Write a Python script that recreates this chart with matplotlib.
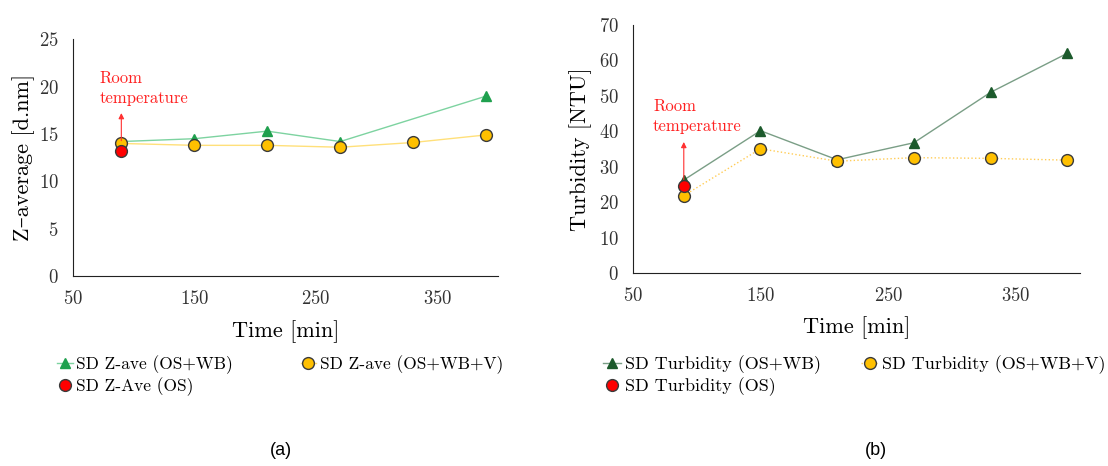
import numpy as np
import matplotlib
matplotlib.use("Agg")
import matplotlib.pyplot as plt

plt.rcParams['font.family'] = ['cmr10', 'DejaVu Serif']
plt.rcParams['axes.formatter.use_mathtext'] = True

# panel (a): Z-average
time_a_wb = [90, 150, 210, 270, 390]
zave_wb = [14.2, 14.5, 15.3, 14.2, 19.0]
time_a_v = [90, 150, 210, 270, 330, 390]
zave_wbv = [14.0, 13.8, 13.8, 13.6, 14.1, 14.9]
time_os = [90]
zave_os = [13.2]

# panel (b): Turbidity
time_b = [90, 150, 210, 270, 330, 390]
turb_wb = [26.3, 40.2, 32.0, 36.8, 51.0, 62.0]
turb_wbv = [21.9, 35.1, 31.6, 32.6, 32.4, 31.9]
turb_os = [24.7]

fig = plt.figure(figsize=(11.08, 4.66), dpi=100)
ax1 = fig.add_axes([0.0656, 0.4077, 0.3841, 0.508])
ax2 = fig.add_axes([0.571, 0.4135, 0.4037, 0.5329])

yellow = '#ffc000'
edge = '#3a3a3a'

# (a)
l1, = ax1.plot(time_a_wb, zave_wb, color='#7dd3a0', lw=1.0, marker='^', ms=7.5,
               mfc='#1fa04e', mec='#1fa04e', label='SD Z-ave (OS+WB)', zorder=2)
l2, = ax1.plot(time_a_v, zave_wbv, color='#ffe07a', lw=1.0, marker='o', ms=8.5,
               mfc=yellow, mec=edge, mew=1.0, label='SD Z-ave (OS+WB+V)', zorder=3)
l3, = ax1.plot(time_os, zave_os, ls='none', marker='o', ms=8.5, mfc='#ff0000',
               mec=edge, mew=1.0, label='SD Z-Ave (OS)', zorder=4)
ax1.annotate('', xy=(90, 17.5), xytext=(90, 14.0),
             arrowprops=dict(arrowstyle='-|>', color='#ff3030', lw=0.8,
                             mutation_scale=8))
ax1.text(72, 21.7, 'Room\ntemperature', color='#ff2020', fontsize=12,
         va='top', ha='left', linespacing=1.4)
ax1.set_xlim(50, 400)
ax1.set_ylim(0, 25)
ax1.set_xticks([50, 150, 250, 350])
ax1.set_yticks(np.arange(0, 26, 5))
ax1.set_xlabel('Time [min]', fontsize=16, labelpad=9)
ax1.set_ylabel('Z\u2013average [d.nm]', fontsize=16, labelpad=3)
ax1.legend([l1, l3, l2], [l1.get_label(), l3.get_label(), l2.get_label()],
           loc='upper left', bbox_to_anchor=(-0.037, -0.335), ncol=2,
           frameon=False, fontsize=12.5, handlelength=0.9,
           handletextpad=0.2, columnspacing=3.9, labelspacing=0.2,
           borderaxespad=0, borderpad=0)

# (b)
m1, = ax2.plot(time_b, turb_wb, color='#7a9e86', lw=1.0, marker='^', ms=7.5,
               mfc='#1c5a2c', mec='#1c5a2c', label='SD Turbidity (OS+WB)', zorder=2)
m2, = ax2.plot(time_b, turb_wbv, color='#ffcc55', lw=1.0, ls=':', marker='o', ms=8.5,
               mfc=yellow, mec=edge, mew=1.0, label='SD Turbidity (OS+WB+V)', zorder=3)
m3, = ax2.plot(time_os, turb_os, ls='none', marker='o', ms=8.5, mfc='#ff0000',
               mec=edge, mew=1.0, label='SD Turbidity (OS)', zorder=4)
ax2.annotate('', xy=(90, 37.8), xytext=(90, 25.0),
             arrowprops=dict(arrowstyle='-|>', color='#ff3030', lw=0.8,
                             mutation_scale=8))
ax2.text(66, 49.2, 'Room\ntemperature', color='#ff2020', fontsize=12,
         va='top', ha='left', linespacing=1.4)
ax2.set_xlim(50, 400)
ax2.set_ylim(0, 70)
ax2.set_xticks([50, 150, 250, 350])
ax2.set_yticks(np.arange(0, 71, 10))
ax2.set_xlabel('Time [min]', fontsize=16, labelpad=8)
ax2.set_ylabel('Turbidity [NTU]', fontsize=16, labelpad=5)
ax2.legend([m1, m3, m2], [m1.get_label(), m3.get_label(), m2.get_label()],
           loc='upper left', bbox_to_anchor=(-0.066, -0.33), ncol=2,
           frameon=False, fontsize=13, handlelength=1.0,
           handletextpad=0.2, columnspacing=2.2, labelspacing=0.2,
           borderaxespad=0, borderpad=0)

for ax in (ax1, ax2):
    for s in ('top', 'right'):
        ax.spines[s].set_visible(False)
    ax.spines['left'].set_color('#222222')
    ax.spines['bottom'].set_color('#222222')
    ax.tick_params(length=0, labelsize=13.5, labelcolor='#333333', pad=10)

fig.text(0.2437, 0.023, '(a)', family='Liberation Sans', fontsize=13)
fig.text(0.7806, 0.023, '(b)', family='Liberation Sans', fontsize=13)

fig.savefig('out.png', dpi=100)
